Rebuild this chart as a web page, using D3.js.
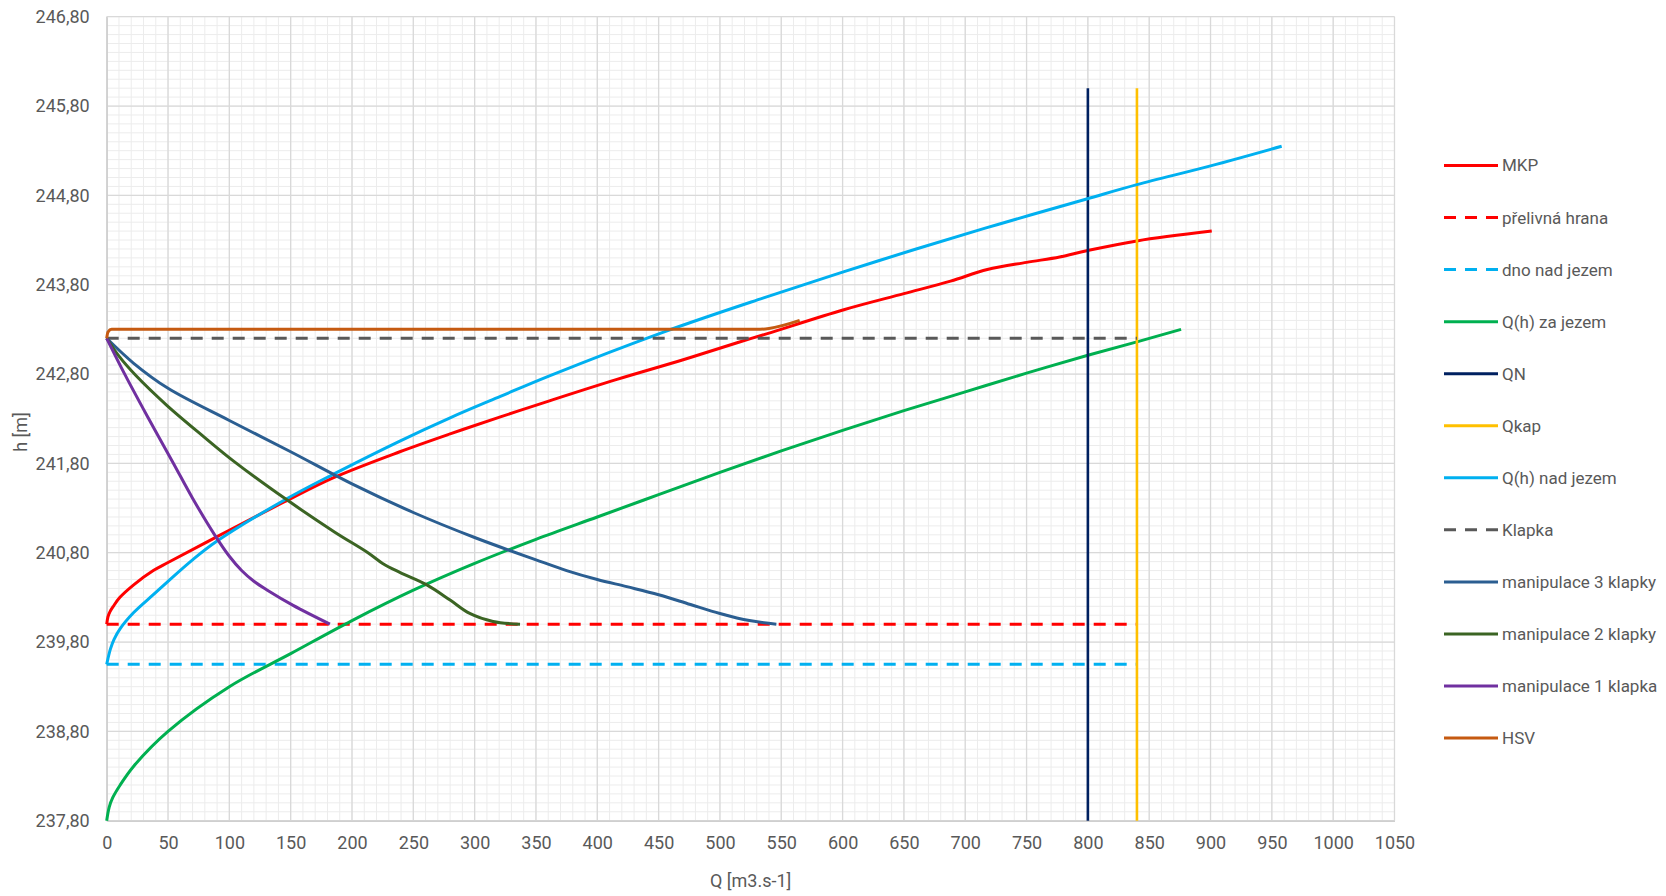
<!DOCTYPE html>
<html>
<head>
<meta charset="utf-8">
<script src="https://cdn.jsdelivr.net/npm/d3@7"></script>
<style>
  body { margin: 0; background: #fff; }
  svg text { font-family: "Roboto", "Liberation Sans", sans-serif; fill: #595959; }
</style>
</head>
<body>
<svg id="chart"></svg>
<script>
// Values: [Q, h]
const mkp = [[0, 240.0], [1, 240.08], [2.7, 240.14], [5.4, 240.2], [10.8, 240.3], [22, 240.44], [38, 240.6], [50, 240.69], [90, 240.98], [145, 241.37], [185, 241.64], [239, 241.93], [280, 242.13], [321, 242.32], [361, 242.5], [416, 242.74], [470, 242.96], [514, 243.15], [538, 243.25], [601, 243.52], [650, 243.7], [688, 243.84], [718, 243.97], [750, 244.05], [777, 244.11], [799, 244.18], [840, 244.29], [901, 244.4]];
const prelivnaHrana = [[0, 240.0], [840, 240.0]];
const dnoNadJezem = [[0, 239.55], [840, 239.55]];
const qhZaJezem = [[0, 237.8], [2, 237.95], [5, 238.06], [11, 238.2], [22, 238.41], [50, 238.8], [100, 239.3], [150, 239.67], [200, 240.04], [250, 240.38], [300, 240.68], [350, 240.95], [400, 241.2], [450, 241.45], [500, 241.7], [550, 241.94], [600, 242.17], [650, 242.39], [700, 242.6], [750, 242.81], [800, 243.01], [840, 243.16], [876, 243.3]];
const qn = [[800, 237.8], [800, 246.0]];
const qkap = [[840, 237.8], [840, 246.0]];
const qhNadJezem = [[0, 239.55], [3, 239.72], [6, 239.83], [11, 239.95], [22, 240.13], [38, 240.33], [50, 240.48], [70, 240.72], [90, 240.93], [145, 241.39], [185, 241.68], [239, 242.05], [280, 242.31], [321, 242.55], [361, 242.78], [454, 243.27], [535, 243.65], [600, 243.94], [660, 244.2], [728, 244.48], [799, 244.76], [840, 244.92], [900, 245.13], [958, 245.35]];
const klapka = [[0, 243.2], [840, 243.2]];
const manip3 = [[0, 243.2], [22, 242.92], [50, 242.64], [100, 242.28], [150, 241.93], [200, 241.57], [250, 241.25], [300, 240.97], [350, 240.72], [375, 240.6], [400, 240.5], [424, 240.42], [450, 240.33], [476, 240.22], [500, 240.12], [524, 240.04], [546, 240.0]];
const manip2 = [[0, 243.2], [10, 243.0], [24, 242.78], [49, 242.45], [79, 242.1], [104, 241.82], [146, 241.4], [186, 241.03], [213, 240.8], [225, 240.68], [239, 240.58], [261, 240.44], [280, 240.27], [296, 240.12], [315, 240.03], [337, 240.0]];
const manip1 = [[0, 243.2], [15, 242.79], [33, 242.33], [54, 241.81], [70, 241.41], [88, 241.0], [100, 240.76], [110, 240.6], [120, 240.48], [131, 240.38], [152, 240.21], [182, 240.0]];
const hsv = [[0, 243.2], [1, 243.27], [4, 243.3], [530, 243.3], [540, 243.31], [565, 243.4]];

const xTicks = [0, 50, 100, 150, 200, 250, 300, 350, 400, 450, 500, 550, 600, 650, 700, 750, 800, 850, 900, 950, 1000, 1050];
const yTicks = [237.8, 238.8, 239.8, 240.8, 241.8, 242.8, 243.8, 244.8, 245.8, 246.8];

const series = [
  { label: "MKP", data: mkp, color: "#ff0000", dash: null },
  { label: "přelivná hrana", data: prelivnaHrana, color: "#ff0000", dash: "12,9" },
  { label: "dno nad jezem", data: dnoNadJezem, color: "#00b0f0", dash: "12,9" },
  { label: "Q(h) za jezem", data: qhZaJezem, color: "#00b050", dash: null },
  { label: "QN", data: qn, color: "#002060", dash: null },
  { label: "Qkap", data: qkap, color: "#ffc000", dash: null },
  { label: "Q(h) nad jezem", data: qhNadJezem, color: "#00b0f0", dash: null },
  { label: "Klapka", data: klapka, color: "#595959", dash: "12,9" },
  { label: "manipulace 3 klapky", data: manip3, color: "#2b5e91", dash: null },
  { label: "manipulace 2 klapky", data: manip2, color: "#3b6423", dash: null },
  { label: "manipulace 1 klapka", data: manip1, color: "#7030a0", dash: null },
  { label: "HSV", data: hsv, color: "#c55a11", dash: null },
];

// Chart dimensions
const width = 1666;
const height = 896;
const plot = { left: 106.7, right: 1394.5, top: 16.7, bottom: 820.7 };

const xScale = d3.scaleLinear().domain([0, 1050]).range([plot.left, plot.right]);
const yScale = d3.scaleLinear().domain([237.8, 246.8]).range([plot.bottom, plot.top]);

const svg = d3.select("#chart").attr("width", width).attr("height", height);

// Minor grid (every 10 on Q, every 0.1 on h)
const grid = svg.append("g");
grid.selectAll(".minor-x")
  .data(d3.range(0, 1051, 10))
  .enter()
  .append("line")
  .attr("x1", (d) => xScale(d)).attr("x2", (d) => xScale(d))
  .attr("y1", plot.top).attr("y2", plot.bottom)
  .attr("stroke", "#ececec").attr("stroke-width", 1);

grid.selectAll(".minor-y")
  .data(d3.range(0, 91))
  .enter()
  .append("line")
  .attr("x1", plot.left).attr("x2", plot.right)
  .attr("y1", (d) => yScale(237.8 + d / 10)).attr("y2", (d) => yScale(237.8 + d / 10))
  .attr("stroke", "#ececec").attr("stroke-width", 1);

// Major grid
grid.selectAll(".major-x")
  .data(xTicks)
  .enter()
  .append("line")
  .attr("x1", (d) => xScale(d)).attr("x2", (d) => xScale(d))
  .attr("y1", plot.top).attr("y2", plot.bottom)
  .attr("stroke", "#d9d9d9").attr("stroke-width", 1.3);

grid.selectAll(".major-y")
  .data(yTicks)
  .enter()
  .append("line")
  .attr("x1", plot.left).attr("x2", plot.right)
  .attr("y1", (d) => yScale(d)).attr("y2", (d) => yScale(d))
  .attr("stroke", "#d9d9d9").attr("stroke-width", 1.3);

// Axes
const xAxis = d3.axisBottom(xScale).tickValues(xTicks).tickSize(0).tickPadding(16)
  .tickFormat((d) => String(d));
const yAxis = d3.axisLeft(yScale).tickValues(yTicks).tickSize(0).tickPadding(17)
  .tickFormat((d) => d3.format(".2f")(d).replace(".", ","));

const gx = svg.append("g").attr("transform", `translate(0, ${plot.bottom})`).call(xAxis);
gx.select(".domain").attr("stroke", "#cfcfcf").attr("stroke-width", 1.5);
gx.selectAll("text").style("font-size", "18px").attr("fill", "#595959");

const gy = svg.append("g").attr("transform", `translate(${plot.left}, 0)`).call(yAxis);
gy.select(".domain").attr("stroke", "#cfcfcf").attr("stroke-width", 1.5);
gy.selectAll("text").style("font-size", "18px").attr("fill", "#595959");

// Axis titles
svg.append("text")
  .attr("x", (plot.left + plot.right) / 2)
  .attr("y", 887)
  .style("text-anchor", "middle")
  .style("font-size", "18px")
  .text("Q [m3.s-1]");

svg.append("text")
  .attr("transform", "translate(27, 432) rotate(-90)")
  .style("text-anchor", "middle")
  .style("font-size", "18px")
  .text("h [m]");

// Lines (smoothed like the spreadsheet chart)
const line = d3.line()
  .x((d) => xScale(d[0]))
  .y((d) => yScale(d[1]))
  .curve(d3.curveCatmullRom.alpha(0.5));

// HSV has long straight runs, monotone avoids overshoot there
const lineFlat = d3.line()
  .x((d) => xScale(d[0]))
  .y((d) => yScale(d[1]))
  .curve(d3.curveMonotoneX);

svg.append("g")
  .selectAll("path")
  .data(series)
  .enter()
  .append("path")
  .attr("d", (s) => (s.label === "HSV" ? lineFlat(s.data) : line(s.data)))
  .attr("fill", "none")
  .attr("stroke", (s) => s.color)
  .attr("stroke-width", (s) => (s.label === "QN" || s.label === "Qkap" ? 2.6 : 3))
  .attr("stroke-dasharray", (s) => s.dash)
  .attr("stroke-linejoin", "round");

// Legend
const legend = svg.append("g").attr("transform", "translate(1444, 165.5)");

const legendItems = legend
  .selectAll(".legend-item")
  .data(series)
  .enter()
  .append("g")
  .attr("class", "legend-item")
  .attr("transform", (d, i) => `translate(0, ${i * 52.05})`);

legendItems.append("line")
  .attr("x1", 0).attr("x2", 54)
  .attr("stroke", (d) => d.color)
  .attr("stroke-width", 3)
  .attr("stroke-dasharray", (d) => d.dash);

legendItems.append("text")
  .attr("x", 58)
  .attr("dy", "0.35em")
  .style("font-size", "17px")
  .text((d) => d.label);
</script>
</body>
</html>
